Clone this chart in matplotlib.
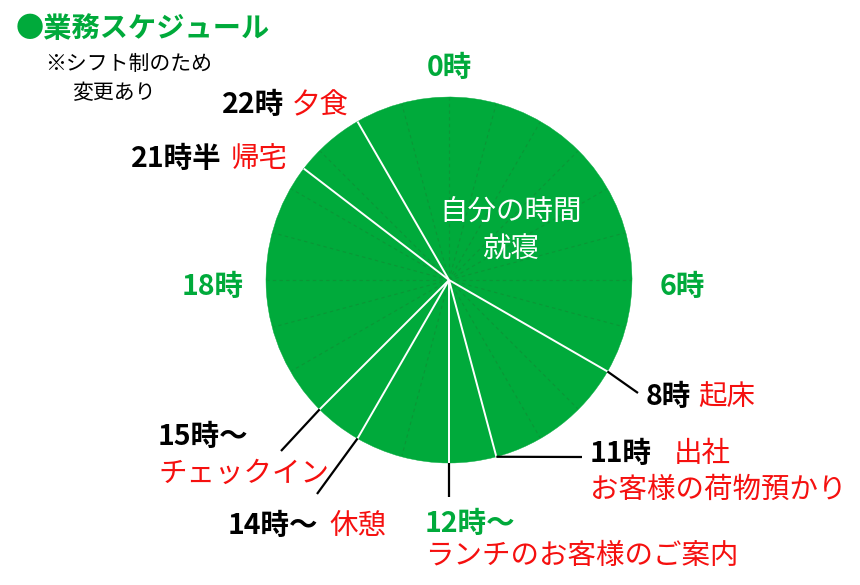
import numpy as np
import matplotlib
matplotlib.use("Agg")
import matplotlib.pyplot as plt

plt.rcParams['font.family'] = ['Noto Sans CJK JP', 'DejaVu Sans']

# ---- data ----
boundary_hours = [8, 11, 12, 14, 15, 20.5, 22]          # white dividing lines (as drawn)
event_times = ["8時", "11時", "12時～", "14時～", "15時～", "21時半", "22時"]
event_names = ["起床", "出社\nお客様の荷物預かり", "ランチのお客様のご案内", "休憩",
               "チェックイン", "帰宅", "夕食"]
clock_hours = [0, 6, 18]
clock_labels = ["0時", "6時", "18時"]
center_text = "自分の時間\n就寝"
title = "●業務スケジュール"
subtitle_lines = ["※シフト制のため", "変更あり"]

GREEN = '#00aa3b'
DASH = '#0b9636'
RED = '#f5100f'
W, H = 860, 585

fig = plt.figure(figsize=(8.6, 5.85), dpi=100)
ax = fig.add_axes([0, 0, 1, 1])

cx, cy, R = 449, 280, 183


def Y(y):
    return H - y


def pt(hour, r):
    a = np.deg2rad(hour * 15.0)
    return cx + r * np.sin(a), Y(cy) + r * np.cos(a)


# pie from boundaries
bs = sorted(boundary_hours)
sizes = [bs[i + 1] - bs[i] for i in range(len(bs) - 1)] + [24 - bs[-1] + bs[0]]
ax.pie(sizes, startangle=90 - bs[0] * 15, counterclock=False, colors=[GREEN] * len(sizes),
       center=(cx, Y(cy)), radius=R,
       wedgeprops=dict(edgecolor=GREEN, linewidth=0.3))

# faint hourly dashed lines
for h in range(24):
    if h in boundary_hours:
        continue
    x1, y1 = pt(h, R - 1)
    ax.plot([cx, x1], [Y(cy), y1], color=DASH, lw=0.8, ls=(0, (3, 3)), zorder=2)

# white boundary lines
for h in boundary_hours:
    x1, y1 = pt(h, R)
    ax.plot([cx, x1], [Y(cy), y1], color='white', lw=1.4, zorder=3,
            solid_capstyle='butt')

ax.set_xlim(0, W)
ax.set_ylim(0, H)
ax.set_aspect('equal')
ax.axis('off')

# leader lines (layout: end points in pixel coords)
leader_ends = {8: (638, 393), 11: (582, 457), 12: (449, 497), 14: (317, 494), 15: (281, 451)}
for h, (ex, ey) in leader_ends.items():
    sx, sy = pt(h, R)
    ax.plot([sx, ex], [sy, Y(ey)], color='black', lw=1.6, solid_capstyle='butt', zorder=3)

FS = 20.5
DY = 2  # small vertical correction for CJK centring
bold = dict(fontsize=FS, fontweight='bold', va='center', ha='left')
norm = dict(fontsize=FS, va='center', ha='left')


def T(x, y, s, **kw):
    ax.text(x, Y(y + DY), s, **kw)


# title
T(16, 27, title, color=GREEN, fontsize=20.3, fontweight='bold', va='center', ha='left')
T(45, 62, subtitle_lines[0], color='black', fontsize=15, va='center', ha='left')
T(72, 91, subtitle_lines[1], color='black', fontsize=15, va='center', ha='left')

# clock labels
clock_pos = {0: (449, 66), 6: (682, 285), 18: (213, 285)}
for h, lab in zip(clock_hours, clock_labels):
    x, y = clock_pos[h]
    T(x, y, lab, color=GREEN, fontsize=FS, fontweight='bold', va='center', ha='center')

# center text
T(511, 229, center_text, color='white', fontsize=FS, va='center', ha='center',
  linespacing=1.32)

# event labels
# 8
T(646, 395, event_times[0], color='black', **bold)
T(698, 395, event_names[0], color=RED, **norm)
# 11
T(590, 452, event_times[1], color='black', **bold)
T(674, 452, event_names[1].split("\n")[0], color=RED, **norm)
T(590, 488, event_names[1].split("\n")[1], color=RED, **norm)
# 12
T(425, 522, event_times[2], color=GREEN, **bold)
T(425, 554, event_names[2], color=RED, **norm)
# 14
T(228, 524, event_times[3], color='black', **bold)
T(329, 524, event_names[3], color=RED, **norm)
# 15
T(158, 435, event_times[4], color='black', **bold)
T(158, 472, event_names[4], color=RED, **norm)
# 21.5
T(222, 157, event_times[5], color='black', ha='right', va='center',
  fontsize=FS, fontweight='bold')
T(231, 157, event_names[5], color=RED, **norm)
# 22
T(284, 103, event_times[6], color='black', ha='right', va='center',
  fontsize=FS, fontweight='bold')
T(292, 103, event_names[6], color=RED, **norm)

fig.savefig('out.png', dpi=100)
